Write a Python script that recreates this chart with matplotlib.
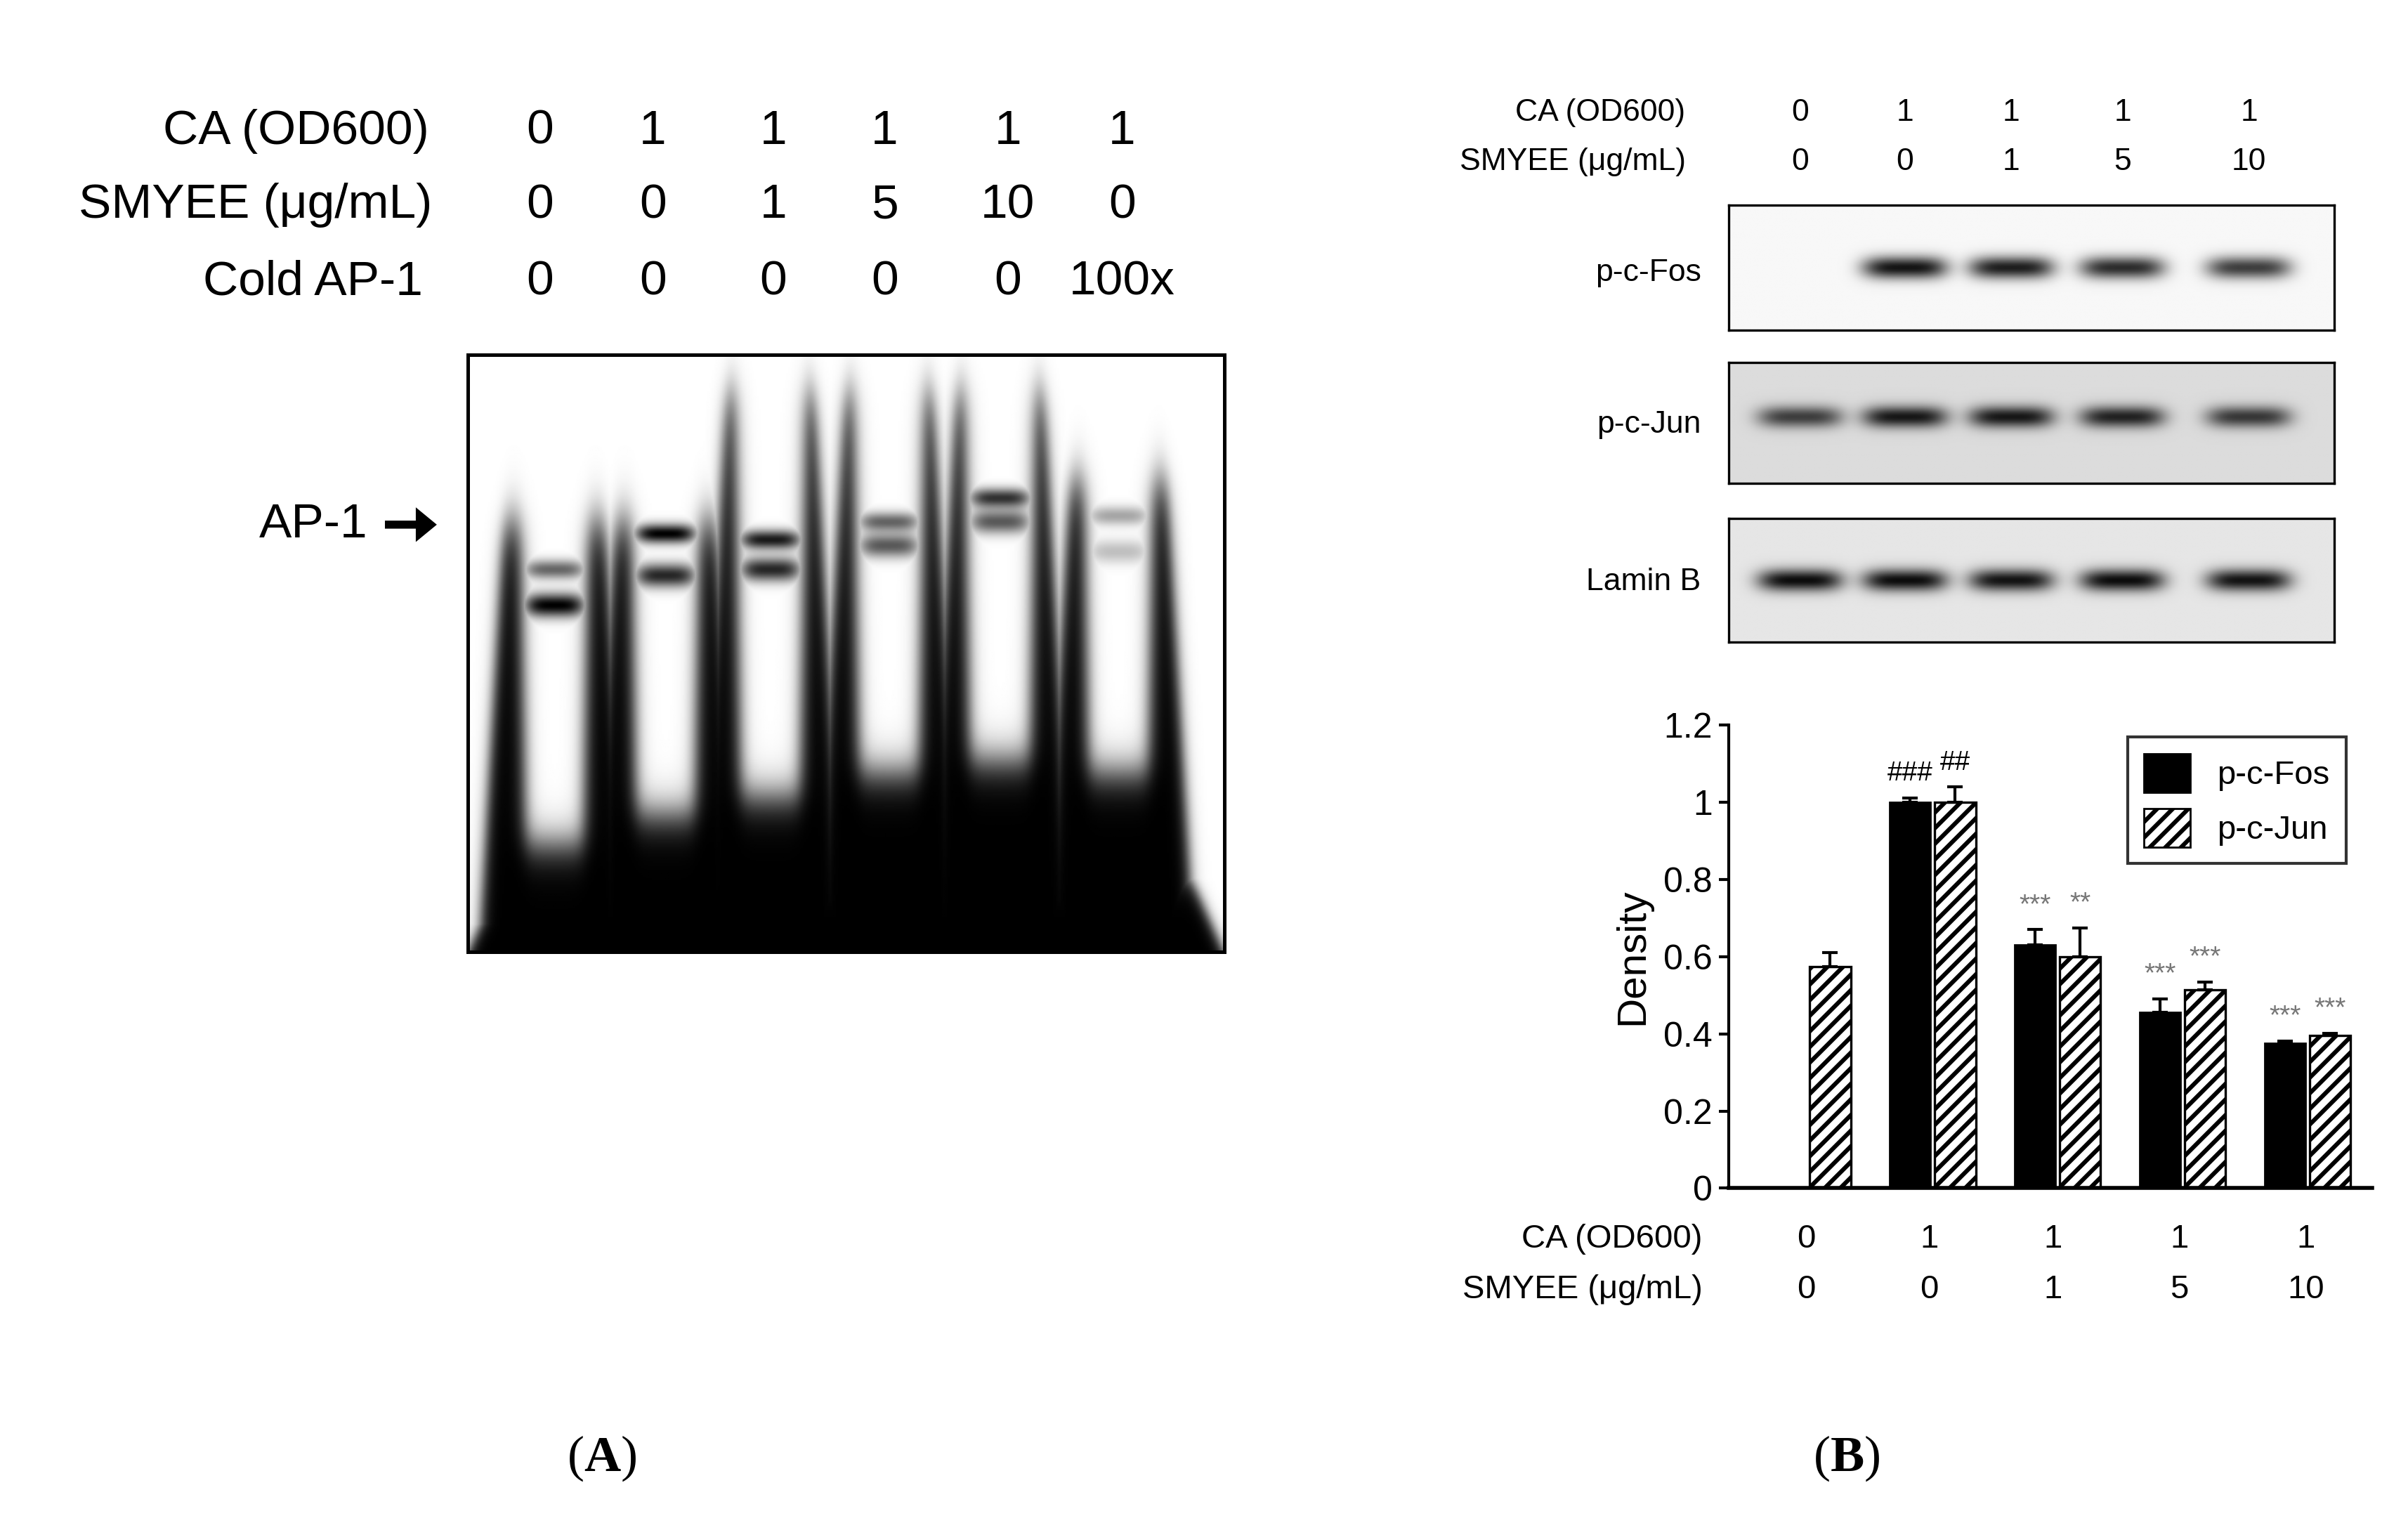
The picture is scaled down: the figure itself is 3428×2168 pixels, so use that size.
import numpy as np
import matplotlib.pyplot as plt
from matplotlib.patches import Patch, FancyArrow

plt.rcParams["font.family"] = ["Liberation Sans", "DejaVu Sans"]
plt.rcParams["hatch.linewidth"] = 2.2
plt.rcParams["mathtext.fontset"] = "custom"
plt.rcParams["mathtext.bf"] = "Liberation Serif:bold"
plt.rcParams["mathtext.rm"] = "Liberation Serif"

# ---- data ----
groups = ["0", "1", "1", "1", "1"]
smyee = ["0", "0", "1", "5", "10"]
fos = [0.0, 1.0, 0.63, 0.455, 0.375]
fos_err = [0.0, 0.012, 0.04, 0.035, 0.006]
jun = [0.575, 1.0, 0.6, 0.515, 0.395]
jun_err = [0.035, 0.04, 0.075, 0.02, 0.006]
fos_sig = ["", "###", "***", "***", "***"]
jun_sig = ["", "##", "**", "***", "***"]

gel_ca = ["0", "1", "1", "1", "1", "1"]
gel_smyee = ["0", "0", "1", "5", "10", "0"]
gel_cold = ["0", "0", "0", "0", "0", "100x"]

blot_names = ["p-c-Fos", "p-c-Jun", "Lamin B"]
blot_fos = [0.0, 0.92, 0.88, 0.82, 0.75]
blot_jun = [0.72, 0.9, 0.9, 0.85, 0.75]
blot_lamin = [0.95, 0.95, 0.92, 0.95, 0.92]

W, H = 1560.0, 987.0
fig = plt.figure(figsize=(17.14, 10.84), dpi=200)


def fx(x):
    return x / W


def fy(y):
    return 1 - y / H


def box(x0, y0, x1, y1):
    return [fx(x0), fy(y1), fx(x1) - fx(x0), fy(y0) - fy(y1)]


# ---- panel A: header ----
for lab, y, xr in [("CA (OD600)", 85, 278), ("SMYEE (\u03bcg/mL)", 133, 280), ("Cold AP-1", 183, 274)]:
    fig.text(fx(xr), fy(y), lab, ha="right", va="center", fontsize=25)
gel_x = [350, 423, 501, 573, 653, 727]
for row, y in [(gel_ca, 85), (gel_smyee, 133), (gel_cold, 183)]:
    for x, v in zip(gel_x, row):
        fig.text(fx(x), fy(y), v, ha="center", va="center", fontsize=25)
fig.text(fx(238), fy(340), "AP-1", ha="right", va="center", fontsize=25)
fig.patches.append(FancyArrow(
    fx(250), fy(340), fx(32), 0, width=0.004, head_width=0.02, head_length=fx(12),
    length_includes_head=True, color="black", transform=fig.transFigure))

# ---- panel A: gel image ----
axg = fig.add_axes(box(303, 230, 793, 617))
nu, nv = 500, 400
u = np.linspace(0, 1, nu)[None, :]
v = np.linspace(0, 1, nv)[:, None]


def sig(z):
    return 0.5 * (1 + np.tanh(z))


lane_c = [0.114, 0.261, 0.40, 0.557, 0.704, 0.861]
lane_top = [0.22, 0.22, 0.0, 0.0, 0.0, 0.15]
lane_end = [0.82, 0.77, 0.74, 0.70, 0.68, 0.70]
dark = np.zeros((nv, nu))
for c, t in zip(lane_c, lane_top):
    hw = 0.055 + 0.045 * v
    dark = np.maximum(dark, sig((hw - np.abs(u - c)) / 0.01) * sig((v - t - 0.06) / 0.05))
bottom = sig((v - 0.86) / 0.03) * sig((u - 0.35 * (1 - v)) / 0.01) * sig((1.0 - u - 0.35 * (1 - v)) / 0.01)
dark = np.maximum(dark, bottom)
core = np.zeros_like(dark)
for c, e in zip(lane_c, lane_end):
    hw = 0.048 - 0.012 * v
    core = np.maximum(core, sig((hw - np.abs(u - c)) / 0.012) * sig((e - v) / 0.04))
img = dark * (1 - core)
bands = [(0.36, 0.42, 0.6, 1.0), (0.30, 0.37, 1.0, 0.85), (0.31, 0.36, 0.9, 0.85),
         (0.28, 0.32, 0.6, 0.65), (0.24, 0.28, 0.8, 0.65), (0.27, 0.33, 0.35, 0.25)]
for c, (b1, b2, s1, s2) in zip(lane_c, bands):
    lane = np.exp(-((u - c) / 0.04) ** 4)
    img = np.maximum(img, lane * (s2 * np.exp(-((v - b2) / 0.02) ** 2) + s1 * np.exp(-((v - b1) / 0.016) ** 2)))
img = np.clip(img, 0, 1)
axg.imshow(1 - img, cmap="gray", vmin=0, vmax=1, aspect="auto", extent=(0, 1, 1, 0))
axg.set_xticks([])
axg.set_yticks([])
for s in axg.spines.values():
    s.set_linewidth(1.8)

# ---- panel B: header ----
fig.text(fx(1092), fy(73), "CA (OD600)", ha="right", va="center", fontsize=16)
fig.text(fx(1092), fy(105), "SMYEE (\u03bcg/mL)", ha="right", va="center", fontsize=16)
blot_x = [1166, 1234, 1303, 1375, 1457]
for x, a, b in zip(blot_x, groups, smyee):
    fig.text(fx(x), fy(73), a, ha="center", va="center", fontsize=16)
    fig.text(fx(x), fy(105), b, ha="center", va="center", fontsize=16)

# ---- panel B: blots ----
blot_boxes = [(133, 214, 0.97, 0.5), (235, 313, 0.86, 0.45), (336, 416, 0.9, 0.5)]
blot_lab_y = [177, 275, 377]
for name, vals, (y0, y1, bg, by), ly in zip(blot_names, [blot_fos, blot_jun, blot_lamin], blot_boxes, blot_lab_y):
    ax = fig.add_axes(box(1120, y0, 1512, y1))
    uu = np.linspace(0, 1, 400)[None, :]
    vv = np.linspace(0, 1, 80)[:, None]
    im = np.zeros((80, 400))
    for x, s in zip(blot_x, vals):
        c = (x - 1120) / 392.0
        im += s * np.exp(-((uu - c) / 0.07) ** 4) * np.exp(-((vv - by) / 0.09) ** 2)
    im = np.clip(bg - im * bg, 0, 1)
    ax.imshow(im, cmap="gray", vmin=0, vmax=1, aspect="auto", extent=(0, 1, 1, 0))
    ax.set_xticks([])
    ax.set_yticks([])
    for s in ax.spines.values():
        s.set_linewidth(1.2)
    fig.text(fx(1102), fy(ly), name, ha="right", va="center", fontsize=16)

# ---- panel B: bar chart ----
axb = fig.add_axes(box(1120, 470, 1537, 770))
x = np.arange(len(fos))
w = 0.33
xf = x - 0.17
xj = x + 0.19
ekw = dict(ecolor="black", capsize=4, lw=1.5, capthick=1.5)
axb.bar(xf[1:], fos[1:], w, color="black", edgecolor="black",
        yerr=[np.zeros(4), fos_err[1:]], error_kw=ekw)
axb.bar(xj, jun, w, color="white", edgecolor="black", hatch="///", lw=1.2,
        yerr=[np.zeros(5), jun_err], error_kw=ekw)
for i in range(len(fos)):
    for xx, val, err, s in [(xf[i], fos[i], fos_err[i], fos_sig[i]), (xj[i], jun[i], jun_err[i], jun_sig[i])]:
        if s:
            col = "black" if "#" in s else "#777777"
            axb.text(xx, val + err + 0.03, s, ha="center", va="bottom", fontsize=14, color=col)
axb.set_xlim(-0.62, 4.53)
axb.set_ylim(0, 1.2)
axb.set_yticks([0, 0.2, 0.4, 0.6, 0.8, 1.0, 1.2])
axb.set_yticklabels(["0", "0.2", "0.4", "0.6", "0.8", "1", "1.2"], fontsize=18)
axb.set_xticks([])
axb.spines["top"].set_visible(False)
axb.spines["right"].set_visible(False)
axb.spines["left"].set_linewidth(1.5)
axb.spines["bottom"].set_linewidth(2)
axb.tick_params(axis="y", length=5, width=1.5)
axb.set_ylabel("Density", fontsize=21, labelpad=6)
leg = axb.legend(handles=[Patch(facecolor="black", edgecolor="black", label="p-c-Fos"),
                          Patch(facecolor="white", edgecolor="black", hatch="///", label="p-c-Jun")],
                 loc="upper right", bbox_to_anchor=(0.985, 1.01), fontsize=17, frameon=True,
                 fancybox=False, edgecolor="black", handlelength=1.4, handleheight=1.4,
                 borderpad=0.5, labelspacing=0.5)
leg.get_frame().set_linewidth(1.5)

bar_lab_x = [1170, 1250, 1330, 1412, 1494]
fig.text(fx(1103), fy(803), "CA (OD600)", ha="right", va="center", fontsize=17)
fig.text(fx(1103), fy(836), "SMYEE (\u03bcg/mL)", ha="right", va="center", fontsize=17)
for xx, a, b in zip(bar_lab_x, groups, smyee):
    fig.text(fx(xx), fy(803), a, ha="center", va="center", fontsize=17)
    fig.text(fx(xx), fy(836), b, ha="center", va="center", fontsize=17)

# ---- panel letters ----
for xx, letter in [(390, "A"), (1196, "B")]:
    fig.text(fx(xx), fy(945), "(" + r"$\mathbf{" + letter + "}$" + ")", ha="center", va="center",
             fontsize=26, family="Liberation Serif")

fig.savefig("out.png", dpi=200, facecolor="white")
